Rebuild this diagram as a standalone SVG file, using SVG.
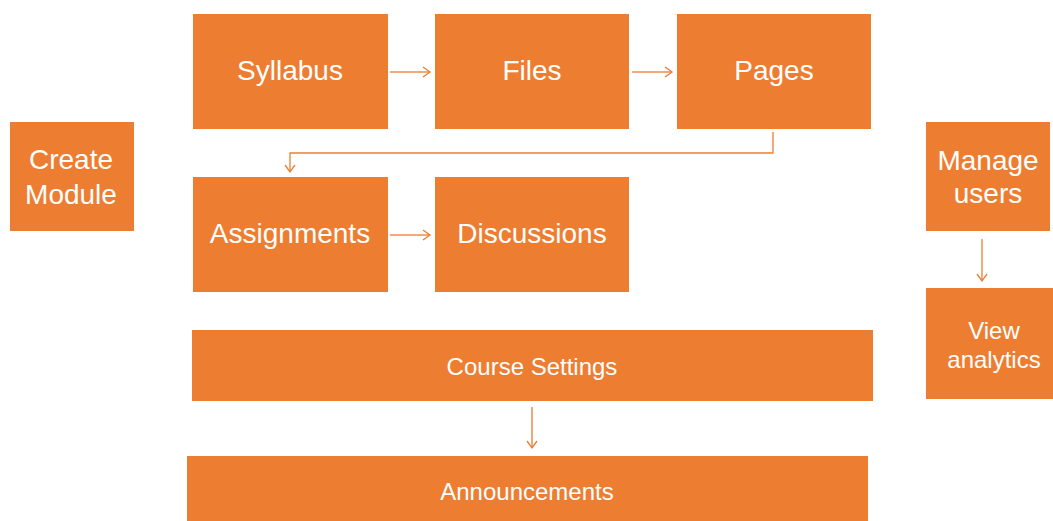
<svg xmlns="http://www.w3.org/2000/svg" width="1053" height="521" viewBox="0 0 1053 521">
<style>
.box{fill:#ED7D31;}
.t{fill:#FFFFFF;font-family:"Liberation Sans",Arial,sans-serif;text-anchor:middle;}
.big{font-size:28px;}
.sm{font-size:24px;}
.con{fill:none;stroke:#ED7D31;stroke-width:1.3;}
.conl{fill:none;stroke:#F4A77A;stroke-width:2;}
</style>
<defs>
<marker id="ah" markerUnits="userSpaceOnUse" markerWidth="12" markerHeight="12" refX="9" refY="6" orient="auto">
<path d="M2,1 L9,6 L2,11" fill="none" stroke="#ED7D31" stroke-width="1.3"/>
</marker>
</defs>
<rect width="1053" height="521" fill="#FFFFFF"/>
<g id="create-module"><rect class="box" x="10" y="122" width="124" height="109"/><text class="t big" x="71" y="169">Create</text><text class="t big" x="71" y="204">Module</text></g>
<g id="syllabus"><rect class="box" x="193" y="14" width="195" height="115"/><text class="t big" x="290" y="80">Syllabus</text></g>
<g id="files"><rect class="box" x="435" y="14" width="194" height="115"/><text class="t big" x="532" y="80">Files</text></g>
<g id="pages"><rect class="box" x="677" y="14" width="194" height="115"/><text class="t big" x="774" y="80">Pages</text></g>
<g id="assignments"><rect class="box" x="193" y="177" width="195" height="115"/><text class="t big" x="290" y="243">Assignments</text></g>
<g id="discussions"><rect class="box" x="435" y="177" width="194" height="115"/><text class="t big" x="532" y="243">Discussions</text></g>
<g id="course-settings"><rect class="box" x="192" y="330" width="681" height="71"/><text class="t sm" x="532" y="375">Course Settings</text></g>
<g id="announcements"><rect class="box" x="187" y="456" width="681" height="65"/><text class="t sm" x="527" y="500">Announcements</text></g>
<g id="manage-users"><rect class="box" x="926" y="122" width="124" height="109"/><text class="t big" x="988" y="170">Manage</text><text class="t big" x="988" y="203">users</text></g>
<g id="view-analytics"><rect class="box" x="926" y="288" width="127" height="111"/><text class="t sm" x="994" y="339">View</text><text class="t sm" x="994" y="368">analytics</text></g>
<g id="connectors">
<path class="conl" d="M390,72 H430" marker-end="url(#ah)"/>
<path class="conl" d="M632,72 H672" marker-end="url(#ah)"/>
<path class="con" d="M773,132 V153 H290 V172" marker-end="url(#ah)"/>
<path class="conl" d="M390,235 H430" marker-end="url(#ah)"/>
<path class="conl" d="M532,407 V448" marker-end="url(#ah)"/>
<path class="con" d="M982,239 V281" marker-end="url(#ah)"/>
</g>
</svg>
